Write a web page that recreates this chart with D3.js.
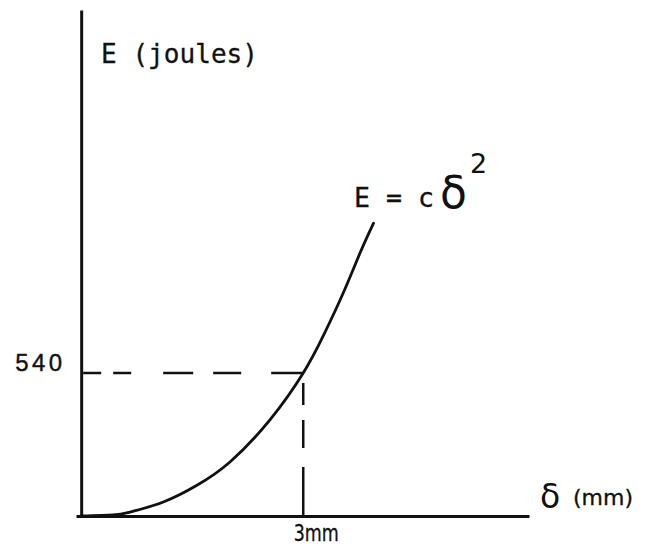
<!DOCTYPE html>
<html>
<head>
<meta charset="utf-8">
<script src="https://cdn.jsdelivr.net/npm/d3@7"></script>
<style>
  html, body { margin: 0; padding: 0; background: #fff; }
  svg { display: block; }
</style>
</head>
<body>
<svg id="chart" width="647" height="546"></svg>
<script>
// Data: displacement delta (mm) and energy E (joules)
const deltaMM = [0, 0.43, 0.66, 1.11, 1.57, 2.01, 2.55, 3.0, 3.27, 3.54, 3.77, 3.95];
const energyJ = [0, 4, 15, 53, 117, 204, 363, 540, 680, 842, 995, 1106];
const markDelta = 3;
const markEnergy = 540;
const xTickLabels = ["3mm"];
const yTickLabels = ["540"];

const svg = d3.select("#chart");
const ink = "#111";

const x = d3.scaleLinear().domain([-0.07, 6.05]).range([76, 529]);
const y = d3.scaleLinear().domain([0, 1911]).range([516, 10]);

// Y axis
const yAxis = d3.axisLeft(y).tickValues([markEnergy]).tickSize(0).tickSizeOuter(0)
  .tickFormat((d, i) => yTickLabels[i]);
const gy = svg.append("g").attr("transform", `translate(${x(0)},0)`).call(yAxis);
gy.select(".domain").attr("stroke", ink).attr("stroke-width", 3);
gy.selectAll(".tick text")
  .attr("x", -66).attr("dy", null).attr("y", -3)
  .attr("text-anchor", "start")
  .attr("font-family", "'Liberation Sans', Arial, sans-serif")
  .attr("font-size", 24).attr("fill", ink)
  .attr("stroke", ink).attr("stroke-width", 0.4)
  .attr("textLength", 47).attr("lengthAdjust", "spacing");

// X axis
const xAxis = d3.axisBottom(x).tickValues([markDelta]).tickSize(0).tickSizeOuter(0)
  .tickFormat((d, i) => xTickLabels[i]);
const gx = svg.append("g").attr("transform", `translate(0,${y(0)})`).call(xAxis);
gx.select(".domain").attr("stroke", ink).attr("stroke-width", 3);
gx.selectAll(".tick text")
  .attr("y", 25).attr("dy", null).attr("x", -10)
  .attr("text-anchor", "start")
  .attr("font-family", "'Liberation Sans Narrow', 'DejaVu Sans Condensed', 'Arial Narrow', sans-serif")
  .attr("font-size", 23).attr("fill", ink)
  .attr("stroke", ink).attr("stroke-width", 0.3)
  .attr("textLength", 45).attr("lengthAdjust", "spacingAndGlyphs");

// Dashed guide lines
svg.append("line")
  .attr("x1", x(0) + 2).attr("x2", x(markDelta))
  .attr("y1", y(markEnergy)).attr("y2", y(markEnergy))
  .attr("stroke", ink).attr("stroke-width", 2.5)
  .attr("stroke-dasharray", "18,12,18,32,30,20,28,30,32");
svg.append("line")
  .attr("x1", x(markDelta)).attr("x2", x(markDelta))
  .attr("y1", y(0)).attr("y2", y(markEnergy))
  .attr("stroke", ink).attr("stroke-width", 2.5)
  .attr("stroke-dasharray", "49,19,28,15,22,10");

// Curve
const pts = deltaMM.map((d, i) => [d, energyJ[i]]);
const line = d3.line().x(d => x(d[0])).y(d => y(d[1])).curve(d3.curveNatural);
svg.append("path").datum(pts)
  .attr("d", line).attr("fill", "none")
  .attr("stroke", ink).attr("stroke-width", 2.8).attr("stroke-linecap", "round");

// Axis titles
const mono = "'DejaVu Sans Mono', 'Liberation Mono', monospace";
svg.append("text").attr("x", 101).attr("y", 63)
  .attr("font-family", mono).attr("font-size", 27).attr("fill", ink)
  .attr("stroke", ink).attr("stroke-width", 0.3)
  .attr("textLength", 157).attr("lengthAdjust", "spacingAndGlyphs")
  .text("E (joules)");

svg.append("text").attr("x", 540).attr("y", 508)
  .attr("font-family", "'DejaVu Sans', sans-serif").attr("font-size", 33).attr("fill", ink)
  .text("δ");
svg.append("text").attr("x", 573).attr("y", 505)
  .attr("font-family", "'Liberation Sans Narrow', 'DejaVu Sans Condensed', sans-serif")
  .attr("font-size", 22).attr("fill", ink)
  .attr("stroke", ink).attr("stroke-width", 0.3)
  .attr("textLength", 60).attr("lengthAdjust", "spacingAndGlyphs")
  .text("(mm)");

// Curve annotation E = c δ²
svg.append("text").attr("x", 354).attr("y", 207)
  .attr("font-family", mono).attr("font-size", 27).attr("fill", ink)
  .attr("stroke", ink).attr("stroke-width", 0.3)
  .attr("textLength", 80).attr("lengthAdjust", "spacingAndGlyphs")
  .text("E = c");
svg.append("text").attr("x", 440).attr("y", 208)
  .attr("font-family", "'DejaVu Sans', sans-serif").attr("font-size", 44).attr("fill", ink)
  .text("δ");
svg.append("text").attr("x", 470).attr("y", 173)
  .attr("font-family", "'DejaVu Sans', sans-serif").attr("font-size", 27).attr("fill", ink)
  .text("2");
</script>
</body>
</html>
